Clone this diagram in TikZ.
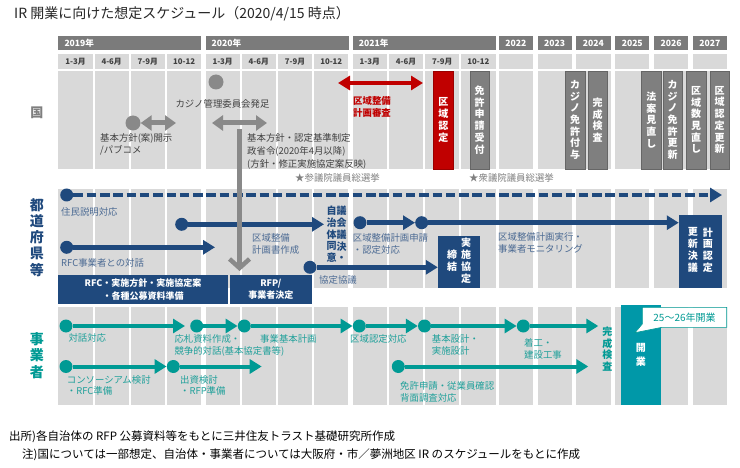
\documentclass[tikz,border=0pt]{standalone}
\usepackage{fontspec}
\setmainfont{Noto Sans CJK JP}
\usepackage{xcolor}
\usetikzlibrary{arrows.meta,positioning}

\definecolor{hdrgray}{HTML}{7B7B7B}
\definecolor{cellgray}{HTML}{D9D9D9}
\definecolor{boxgray}{HTML}{7F7F7F}
\definecolor{arrgray}{HTML}{898989}
\definecolor{graytext}{HTML}{404040}
\definecolor{lightgraytext}{HTML}{7F7F7F}
\definecolor{navy}{HTML}{1F497D}
\definecolor{navytext}{HTML}{4B6A93}
\definecolor{tealc}{HTML}{009A94}
\definecolor{tealtext}{HTML}{1FA09A}
\definecolor{tealbox}{HTML}{0098A8}
\definecolor{redc}{HTML}{C00000}

\newcommand\setfs[2]{\fontsize{#1}{#2}\selectfont}
\newcommand\vcol[1]{\begin{tabular}[c]{@{}c@{}}#1\end{tabular}}

\begin{document}
\begin{tikzpicture}[x=1pt, y=-1pt,
  qlabel/.style={font=\bfseries\setfs{7.8}{9}, text=graytext, inner sep=0pt},
  ylabel/.style={font=\bfseries\setfs{8.6}{10}, text=white, inner sep=0pt},
  gtext/.style={font=\setfs{9.4}{13}, text=graytext, inner sep=0pt, align=left},
  ntext/.style={font=\setfs{9.4}{12.5}, text=navytext, inner sep=0pt, align=left},
  ttext/.style={font=\setfs{9.4}{12.3}, text=tealtext, inner sep=0pt, align=left},
  rtext/.style={font=\bfseries\setfs{9.4}{12}, text=redc, inner sep=0pt, align=left},
  etext/.style={font=\setfs{9.4}{11}, text=lightgraytext, inner sep=0pt},
  gbox/.style={fill=boxgray, draw=boxgray!80!black, line width=0.5pt, minimum width=19.5pt, minimum height=98pt, inner sep=0pt, text=white, font=\bfseries\setfs{10}{11.7}, align=center},
  rbox/.style={gbox, fill=redc, draw=redc!80!black},
  nbox/.style={fill=navy, text=white, inner sep=0pt, font=\bfseries\setfs{9}{12.5}, align=center},
  vnavy/.style={font=\bfseries\setfs{10}{11}, text=navy, inner sep=0pt},
  ndot/.style={circle, fill=navy, inner sep=0pt, minimum size=13pt},
  narr/.style={draw=navy, line width=4.5pt, -{Triangle[length=12pt,width=14pt]}},
  ndash/.style={narr, dash pattern=on 9.5pt off 3.8pt},
  tdot/.style={circle, fill=tealc, inner sep=0pt, minimum size=13pt},
  tarr/.style={draw=tealc, line width=4pt, -{Triangle[length=12pt,width=14pt]}},
  gdot/.style={circle, fill=arrgray, inner sep=0pt, minimum size=15pt},
  gdarr/.style={draw=arrgray, line width=5pt, {Triangle[length=11pt,width=15pt]}-{Triangle[length=11pt,width=15pt]}},
  gvarr/.style={draw=arrgray, line width=4.5pt, -{Straight Barb[length=9pt,width=20pt]}},
  rdarr/.style={draw=redc, line width=4pt, {Triangle[length=12pt,width=14pt]}-{Triangle[length=12pt,width=14pt]}}
]
\useasboundingbox (0,0) rectangle (740,468);
\fill[white] (0,0) rectangle (740,468);

% title
\node[anchor=west, font=\setfs{14}{16}, text=black!85, inner sep=0pt] (title) at (14,14) {IR 開業に向けた想定スケジュール（2020/4/15 時点）};

% calendar grid
\foreach \yr/\yl in {0/2019年,1/2020年,2/2021年}{
  \pgfmathsetmacro{\cx}{58.3+147.2*\yr}
  \fill[hdrgray] (\cx,36) rectangle ++(143,14);
  \node[ylabel, anchor=west] (y\yr) at (\cx+6,43) {\yl};
  \foreach \q/\ql in {0/1-3月,1/4-6月,2/7-9月,3/10-12}{
    \pgfmathsetmacro{\qx}{\cx+36.2*\q}
    \fill[cellgray] (\qx,54) rectangle ++(34.3,15);
    \node[qlabel] (q\yr\q) at (\qx+17.15,61.5) {\ql};
    \fill[cellgray] (\qx,71) rectangle ++(34.3,98);
    \fill[cellgray] (\qx,189) rectangle ++(34.3,99);
    \fill[cellgray] (\qx,307) rectangle ++(34.3,98);
  }
}
\foreach \k/\yl in {0/2022,1/2023,2/2024,3/2025,4/2026,5/2027}{
  \pgfmathsetmacro{\cx}{498.7+38.8*\k}
  \fill[hdrgray] (\cx,36) rectangle ++(34.3,14);
  \node[ylabel] (yy\k) at (\cx+17.15,43) {\yl};
  \fill[cellgray] (\cx,54) rectangle ++(34.3,15);
  \fill[cellgray] (\cx,71) rectangle ++(34.3,98);
  \fill[cellgray] (\cx,189) rectangle ++(34.3,99);
  \fill[cellgray] (\cx,307) rectangle ++(34.3,98);
}

% row labels
\node[font=\bfseries\setfs{13}{15}, text=lightgraytext, inner sep=0pt] (kuni) at (37,113) {国};
\node[font=\bfseries\setfs{14}{16.2}, text=navy, align=center, inner sep=0pt] (todo) at (37,237.5) {都\\道\\府\\県\\等};
\node[font=\bfseries\setfs{14}{16.2}, text=tealc, align=center, inner sep=0pt] (jigyo) at (37,355.5) {事\\業\\者};

% national government
\node[gdot] (kihon) at (133,123) {};
\coordinate (kihonR) at (176,123);
\draw[gdarr] (kihon) -- (kihonR);
\node[gtext, anchor=north west, font=\setfs{9.4}{12}] (kihonT) at (100,133.5) {基本方針(案)開示\\/パブコメ};
\node[gdot] (casino) at (216,82) {};
\node[gtext] (casinoT) at (222.5,104) {カジノ管理委員会発足};
\coordinate (seiL) at (212,123);
\coordinate (seiR) at (267,123);
\draw[gdarr] (seiL) -- (seiR);
\node[gtext, anchor=north west] (seiT) at (247,133) {基本方針・認定基準制定\\政省令(2020年4月以降)\\(方針・修正実施協定案反映)};
\coordinate (shinsaL) at (338,83);
\coordinate (shinsaR) at (423,83);
\draw[rdarr] (shinsaL) -- (shinsaR);
\node[rtext, anchor=north west] (shinsaT) at (353,96) {区域整備\\計画審査};
\node[rbox] (ninteiK) at (443.3,120) {区\\域\\認\\定};
\node[gbox] (menkyo) at (479.7,120) {免\\許\\申\\請\\受\\付};
\node[gbox] (fuyo) at (575,120) {カ\\ジ\\ノ\\免\\許\\付\\与};
\node[gbox] (kensaK) at (597.7,120) {完\\成\\検\\査};
\node[gbox] (houan) at (651.3,120) {法\\案\\見\\直\\し};
\node[gbox] (koushin) at (672.7,120) {カ\\ジ\\ノ\\免\\許\\更\\新};
\node[gbox] (kusu) at (696,120) {区\\域\\数\\見\\直\\し};
\node[gbox] (ninteiU) at (719.6,120) {区\\域\\認\\定\\更\\新};
\node[etext, anchor=west] (sanin) at (295,178) {★参議院議員総選挙};
\node[etext, anchor=west] (shugin) at (469,178) {★衆議院議員総選挙};

% prefectures
\node[nbox, minimum width=169.4pt, minimum height=29pt] (rfc) at (143,289.5) {RFC・実施方針・実施協定案\\・各種公募資料準備};
\node[nbox, minimum width=81.7pt, minimum height=29pt] (rfp) at (270.85,289.5) {RFP/\\事業者決定};
\node[nbox, minimum width=42pt, minimum height=52.3pt, font=\bfseries\setfs{10}{11.7}] (jisshi) at (459,261.9) {\vcol{締\\結}\hspace{4pt}\vcol{実\\施\\協\\定}};
\node[nbox, minimum width=42.7pt, minimum height=73pt, font=\bfseries\setfs{10}{11.7}] (keikaku) at (700.3,251.5) {\vcol{更\\新\\決\\議}\hspace{5pt}\vcol{計\\画\\認\\定}};

\node[ndot] (ds) at (66.7,195) {};
\coordinate (de) at (722,195);
\draw[ndash] (ds) -- (de);
\node[ntext, anchor=west] (juumin) at (61,211.7) {住民説明対応};
\node[ndot] (a1s) at (181.7,224.3) {};
\coordinate (a1e) at (324,224.3);
\draw[narr] (a1s) -- (a1e);
\node[ntext, anchor=north west] (sakusei) at (252,233) {区域整備\\計画書作成};
\node[ndot] (a2s) at (66.7,247.3) {};
\coordinate (a2e) at (215,247.3);
\draw[narr] (a2s) -- (a2e);
\node[ntext, anchor=west] (taiwa) at (61,262.7) {RFC事業者との対話};
\node[vnavy, anchor=north] (gikai) at (336.7,206) {\vcol{自\\治\\体\\同\\意}\vcol{議\\会\\議\\決\\・}};
\node[ndot] (a3s) at (360,222.7) {};
\node[ndot] (a4s) at (421.7,222.7) {};
\draw[narr] (a3s) -- (a4s.west);
\draw[narr] (a4s) -- (keikaku.west |- a4s);
\node[ntext, anchor=north west] (shinsei) at (352.7,233) {区域整備計画申請\\・認定対応};
\node[ndot] (a5s) at (310,267.3) {};
\draw[narr] (a5s) -- (jisshi.west |- a5s);
\node[ntext, anchor=west] (kyougi) at (319,280) {協定協議};
\node[ntext, anchor=north west] (jikkou) at (498,232.2) {区域整備計画実行・\\事業者モニタリング};

% guideline arrow to RFP
\coordinate (rfpTop) at (239.5,129);
\coordinate (rfpEnd) at (239.5,271);
\draw[gvarr] (rfpTop) -- (rfpEnd);

% operators
\node[tdot] (t1s) at (66,326) {};
\coordinate (t1e) at (185,326);
\draw[tarr] (t1s) -- (t1e);
\node[ttext, anchor=west] (taiou) at (68.3,338.3) {対話対応};
\node[tdot] (t2s) at (196.7,326) {};
\node[tdot] (t3s) at (244.3,326) {};
\node[tdot] (t4s) at (359.3,326) {};
\node[tdot] (t5s) at (424.5,326) {};
\node[tdot] (t6s) at (523.3,326) {};
\coordinate (t6e) at (598.3,326);
\draw[tarr] (t2s) -- (t3s.west);
\draw[tarr] (t3s) -- (t4s.west);
\draw[tarr] (t4s) -- (t5s.west);
\draw[tarr] (t5s) -- (t6s.west);
\draw[tarr] (t6s) -- (t6e);
\node[ttext, anchor=north west] (ousatsu) at (174.3,334.2) {応札資料作成・\\競争的対話(基本協定書等)};
\node[ttext, anchor=west] (kihonkei) at (260,339) {事業基本計画};
\node[ttext, anchor=west] (kuikitai) at (350,339) {区域認定対応};
\node[ttext, anchor=north west] (sekkei) at (431.7,334.2) {基本設計・\\実施設計};
\node[ttext, anchor=north west] (chakkou) at (524,338) {着工・\\建設工事};
\node[tdot] (r1s) at (66,366.5) {};
\node[tdot] (r2s) at (173.3,366.5) {};
\coordinate (r2e) at (261.7,366.5);
\draw[tarr] (r1s) -- (r2s.west);
\draw[tarr] (r2s) -- (r2e);
\node[ttext, anchor=north west, font=\setfs{9.4}{11}] (consor) at (66.7,375.2) {コンソーシアム検討\\・RFC準備};
\node[ttext, anchor=north west, font=\setfs{9.4}{11}] (shusshi) at (180,375.2) {出資検討\\・RFP準備};
\node[tdot] (r3s) at (398.3,366.5) {};
\coordinate (r3e) at (588.3,366.5);
\draw[tarr] (r3s) -- (r3e);
\node[ttext, anchor=north west, font=\setfs{9.4}{11.7}] (haimen) at (400,381.2) {免許申請・従業員確認\\背面調査対応};
\node[font=\bfseries\setfs{10}{11.7}, text=tealc, align=center, inner sep=0pt] (kensaJ) at (607.3,349) {完\\成\\検\\査};
\node[fill=tealbox, minimum width=40.3pt, minimum height=100pt, text=white, font=\bfseries\setfs{10}{13.3}, align=center, inner sep=0pt] (kaigyo) at (640.85,355) {開\\業};
\draw[tealc, fill=white, line width=0.6pt] (642.3,307.3) -- (726.7,307.3) -- (726.7,327.3) -- (662,327.3) -- (635,332.7) -- (642.3,324) -- cycle;
\node[text=tealc, font=\setfs{10}{12}, inner sep=0pt] (kaigyoT) at (684.5,317.3) {25～26年開業};

% notes
\node[anchor=west, font=\setfs{11.5}{14}, inner sep=0pt] (src) at (9,437) {出所)各自治体の RFP 公募資料等をもとに三井住友トラスト基礎研究所作成};
\node[anchor=west, font=\setfs{11.5}{14}, inner sep=0pt] (note) at (22,455) {注)国については一部想定、自治体・事業者については大阪府・市／夢洲地区 IR のスケジュールをもとに作成};
\end{tikzpicture}
\end{document}
